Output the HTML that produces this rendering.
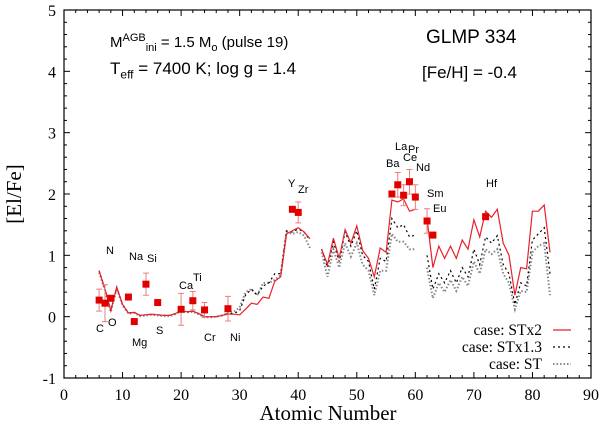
<!DOCTYPE html>
<html><head><meta charset="utf-8"><style>
html,body{margin:0;padding:0;background:#fff;}
svg{display:block;}
.t{font-family:"Liberation Serif",serif;}
.s{font-family:"Liberation Sans",sans-serif;}
</style></head><body>
<svg id="chart" width="600" height="432" viewBox="0 0 600 432"></svg>
<script>
const zRange = [];
for (let z = 6; z <= 83; z++) zRange.push(z);
const redVals = {6:0.75,7:0.45,8:0.1,9:0.48,10:0.2,11:0.06,12:0.07,13:0.02,14:0.03,15:0.04,16:0.03,17:0.02,18:0.02,19:0.05,20:0.1,21:0.08,22:0.09,23:0.05,24:0,25:0,26:0,27:0.02,28:0.04,29:0.04,30:0.03,31:0.12,32:0.22,33:0.2,34:0.32,35:0.3,36:0.58,37:0.65,38:1.35,39:1.4,40:1.45,41:1.38,42:1.27,44:1.1,45:0.85,46:1.28,47:0.95,48:1.42,49:1.2,50:1.48,51:1.08,52:0.95,53:0.65,54:1.12,55:1.05,56:1.9,57:1.87,58:1.92,59:1.72,60:1.75,62:1.6,63:0.8,64:1.15,65:0.95,66:1.15,67:0.95,68:1.25,69:1.1,70:1.58,71:1.3,72:1.72,73:1.62,74:1.75,75:1.2,76:1.0,77:0.35,78:0.8,79:0.78,80:1.72,81:1.72,82:1.82,83:1.05};
const blackVals = {6:0.75,7:0.45,8:0.1,9:0.48,10:0.2,11:0.06,12:0.07,13:0.02,14:0.03,15:0.04,16:0.03,17:0.02,18:0.02,19:0.05,20:0.1,21:0.08,22:0.09,23:0.05,24:0,25:0,26:0,27:0.02,28:0.05,29:0.05,30:0.1,31:0.35,32:0.45,33:0.35,34:0.5,35:0.55,36:0.7,37:0.7,38:1.4,39:1.38,40:1.43,41:1.38,42:1.25,44:1.1,45:0.8,46:1.22,47:0.9,48:1.38,49:1.15,50:1.4,51:1.0,52:0.9,53:0.45,54:0.95,55:0.9,56:1.6,57:1.45,58:1.5,59:1.3,60:1.33,62:1.0,63:0.45,64:0.7,65:0.55,66:0.75,67:0.55,68:0.8,69:0.65,70:1.1,71:0.85,72:1.3,73:1.2,74:1.32,75:0.85,76:0.7,77:0.2,78:0.55,79:0.5,80:1.25,81:1.35,82:1.45,83:0.7};
const greyVals = {6:0.72,7:0.43,8:0.08,9:0.46,10:0.18,11:0.05,12:0.06,13:0.01,14:0.02,15:0.03,16:0.02,17:0.01,18:0.01,19:0.04,20:0.09,21:0.07,22:0.08,23:0.04,24:-0.01,25:-0.01,26:0,27:0.02,28:0.06,29:0.08,30:0.15,31:0.4,32:0.45,33:0.35,34:0.55,35:0.55,36:0.6,37:0.68,38:1.38,39:1.35,40:1.38,41:1.32,42:1.12,44:1.05,45:0.65,46:1.1,47:0.8,48:1.2,49:0.98,50:1.2,51:0.85,52:0.75,53:0.35,54:0.75,55:0.75,56:1.35,57:1.22,58:1.22,59:1.1,60:1.1,62:0.8,63:0.3,64:0.55,65:0.4,66:0.6,67:0.42,68:0.65,69:0.5,70:0.9,71:0.7,72:1.1,73:1.02,74:1.1,75:0.7,76:0.55,77:0.12,78:0.42,79:0.4,80:1.05,81:1.15,82:1.2,83:0.35};
const obsZ   = [6,7,8,11,12,14,16,20,22,24,28,39,40,56,57,58,59,60,62,63,72];
const obsVal = [0.27,0.22,0.3,0.32,-0.08,0.53,0.23,0.12,0.26,0.11,0.13,1.75,1.7,2.0,2.15,1.98,2.2,1.95,1.56,1.33,1.63];
const obsErr = [0.18,0.3,0.0,0,0,0.18,0,0.26,0.15,0.12,0.2,0,0.17,0,0.2,0.17,0.2,0.2,0.2,0,0];
const xTicks = [0,10,20,30,40,50,60,70,80,90];
const yTicks = [-1,0,1,2,3,4,5];
const elemLabels = [["N",106,254],["Na",129,260],["Si",147,262],["C",96,332],["O",108,326],["Mg",132,346],["S",156,334],["Ca",179,289],["Ti",193,281],["Cr",204,341],["Ni",230,341],["Y",288,187],["Zr",298,193],["Ba",386,167],["La",395,150],["Pr",408,153],["Ce",403,161],["Nd",416,171],["Sm",427,197],["Eu",433,212],["Hf",486,187]];

const L=64,R=591,T=10,B=378;
const sx=v=>L+(v-0)/90*(R-L);
const sy=v=>B-(v+1)/6*(B-T);
const svg=document.getElementById('chart');
const NS='http://www.w3.org/2000/svg';
function mk(tag,attrs,parent){const e=document.createElementNS(NS,tag);for(const k in attrs)e.setAttribute(k,attrs[k]);(parent||svg).appendChild(e);return e;}

const frame=mk('rect',{x:L,y:T,width:R-L,height:B-T,fill:'none',stroke:'#000','stroke-width':1.2});


for(let v=0;v<=90;v+=2){const maj=v%10===0;const len=maj?6:3;
 mk('line',{x1:sx(v),x2:sx(v),y1:B,y2:B-len,stroke:'#000','stroke-width':1});
 mk('line',{x1:sx(v),x2:sx(v),y1:T,y2:T+len,stroke:'#000','stroke-width':1});}
for(let i=0;i<=30;i++){const v=-1+i*0.2;const maj=i%5===0;const len=maj?6:3;
 mk('line',{x1:L,x2:L+len,y1:sy(v),y2:sy(v),stroke:'#000','stroke-width':1});
 mk('line',{x1:R,x2:R-len,y1:sy(v),y2:sy(v),stroke:'#000','stroke-width':1});}
xTicks.forEach(v=>{const t=mk('text',{x:sx(v),y:B+22,'text-anchor':'middle','font-size':16,class:'t'});t.textContent=v;
 
 });
yTicks.forEach(v=>{const t=mk('text',{x:L-8,y:sy(v)+6,'text-anchor':'end','font-size':16,class:'t'});t.textContent=v;
 
 });
const xt=mk('text',{x:328,y:420,'text-anchor':'middle','font-size':21,class:'t'});xt.textContent='Atomic Number';


const yt=mk('text',{x:0,y:0,'text-anchor':'middle','font-size':21,class:'t',transform:'translate(21,194) rotate(-90)'});yt.textContent='[El/Fe]';



function series(vals,attrs,name){let d='';let pen=false;
 zRange.forEach(z=>{const v=vals[z];if(v===undefined){pen=false;return;}d+=(pen?'L':'M')+sx(z).toFixed(1)+','+sy(v).toFixed(1);pen=true;});
 const p=mk('path',Object.assign({d:d,fill:'none'},attrs));
 
 }
series(greyVals,{stroke:'#888','stroke-width':2,'stroke-dasharray':'1.5,2'},'series-st');
series(blackVals,{stroke:'#000','stroke-width':1.2,'stroke-dasharray':'2,3'},'series-stx1-3');
series(redVals,{stroke:'#e8202a','stroke-width':1.2},'series-stx2');

obsZ.forEach((z,i)=>{const x=sx(z),y=sy(obsVal[i]),e=obsErr[i];
 if(e>0){const g=mk('path',{d:`M${x},${sy(obsVal[i]+e)}V${sy(obsVal[i]-e)}M${x-3},${sy(obsVal[i]+e)}h6M${x-3},${sy(obsVal[i]-e)}h6`,stroke:'#e88080','stroke-width':1,fill:'none'});
 
 }
 const r=mk('rect',{x:x-3.5,y:y-3.5,width:7,height:7,fill:'#e00000'});
 
 });

elemLabels.forEach(l=>{const t=mk('text',{x:l[1],y:l[2],'font-size':11,class:'s'});t.textContent=l[0];
 
 });

const leg=[['case: STx2',{stroke:'#e8202a','stroke-width':1.2}],['case: STx1.3',{stroke:'#000','stroke-width':1.2,'stroke-dasharray':'2,3'}],['case: ST',{stroke:'#888','stroke-width':2,'stroke-dasharray':'1.5,2'}]];
leg.forEach((l,i)=>{const y=[335,352,369][i];
 const t=mk('text',{x:542,y:y,'text-anchor':'end','font-size':15.5,class:'t'});t.textContent=l[0];
 
 
 mk('line',Object.assign({x1:553,x2:571,y1:y-5,y2:y-5},l[1]));});
</script>
<div style="position:absolute;left:0;top:0;width:600px;height:432px;pointer-events:none;font-family:'Liberation Sans',sans-serif;">
<div style="position:absolute;left:110px;top:32px;font-size:15px;white-space:nowrap;">M<sup style="font-size:11px">AGB</sup><sub style="font-size:11px">ini</sub> = 1.5 M<sub style="font-size:11px">o</sub> (pulse 19)</div>
<div style="position:absolute;left:110px;top:59px;font-size:17px;white-space:nowrap;">T<sub style="font-size:12px">eff</sub> = 7400 K; log g = 1.4</div>
<div style="position:absolute;left:426px;top:27px;font-size:19px;white-space:nowrap;">GLMP 334</div>
<div style="position:absolute;left:422px;top:63px;font-size:17px;white-space:nowrap;">[Fe/H] = -0.4</div>
</div>
</body></html>
